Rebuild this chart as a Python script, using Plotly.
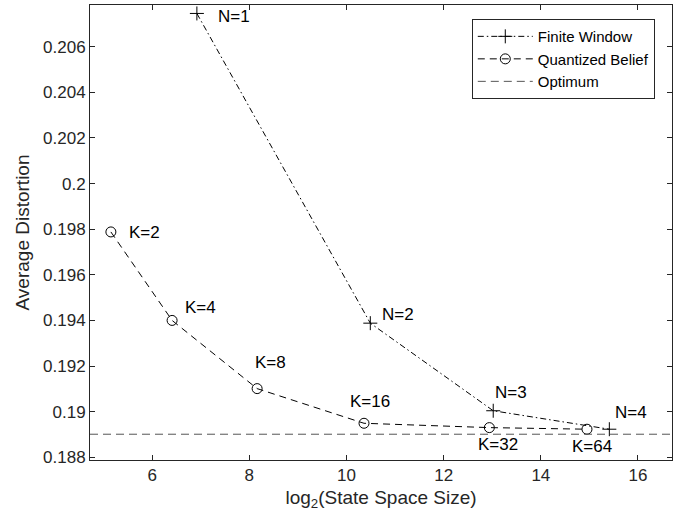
import plotly.graph_objects as go

# ---- data ----
fw_x = [6.92, 10.49, 13.02, 15.41]
fw_y = [0.20746, 0.19388, 0.19004, 0.18923]
fw_labels = ["N=1", "N=2", "N=3", "N=4"]

qb_x = [5.15, 6.41, 8.16, 10.36, 12.94, 14.95]
qb_y = [0.19788, 0.19400, 0.19101, 0.18949, 0.18930, 0.18923]
qb_labels = ["K=2", "K=4", "K=8", "K=16", "K=32", "K=64"]

optimum = 0.18901

x_ticks = [6, 8, 10, 12, 14, 16]
y_ticks = [0.188, 0.19, 0.192, 0.194, 0.196, 0.198, 0.2, 0.202, 0.204, 0.206]
y_ticktext = ["0.188", "0.19", "0.192", "0.194", "0.196", "0.198", "0.2", "0.202", "0.204", "0.206"]

x_range = [4.72, 16.70]
y_range = [0.18788, 0.20783]

# label offsets (pixels): (xshift, yshift)
fw_off = [(19, -3), (10, 9), (0, 18), (4, 17)]
qb_off = [(16, -1), (11, 13), (-4, 26), (-16, 22), (-13, -17), (-17, -17)]

FONT = "Liberation Sans, Arial, sans-serif"
AX = "#262626"

fig = go.Figure()
fig.add_trace(go.Scatter(
    x=fw_x, y=fw_y, mode="lines+markers", name="Finite Window",
    line=dict(color="black", width=1, dash="6px,3px,1.5px,3px"),
    marker=dict(symbol="cross-thin", size=10, line=dict(color="black", width=1)),
))
fig.add_trace(go.Scatter(
    x=qb_x, y=qb_y, mode="lines+markers", name="Quantized Belief",
    line=dict(color="black", width=1, dash="7px,5px"),
    marker=dict(symbol="circle-open", size=10, color="black", line=dict(width=1)),
))
fig.add_trace(go.Scatter(
    x=x_range, y=[optimum, optimum], mode="lines", name="Optimum",
    line=dict(color="#555555", width=1, dash="8px,5px"),
))

annotations = []
for xv, yv, t, (dx, dy) in zip(fw_x, fw_y, fw_labels, fw_off):
    annotations.append(dict(x=xv, y=yv, text=t, showarrow=False, xanchor="left", yanchor="middle",
                            xshift=dx, yshift=dy, font=dict(family=FONT, size=17, color="black")))
for xv, yv, t, (dx, dy) in zip(qb_x, qb_y, qb_labels, qb_off):
    annotations.append(dict(x=xv, y=yv, text=t, showarrow=False, xanchor="left", yanchor="middle",
                            xshift=dx, yshift=dy, font=dict(family=FONT, size=17, color="black")))

axis_common = dict(
    showgrid=False, zeroline=False, showline=True, linecolor=AX, linewidth=1,
    mirror="ticks", ticks="inside", ticklen=5, tickcolor=AX, tickwidth=1,
    tickfont=dict(family=FONT, size=17, color=AX), automargin=False,
)

fig.update_layout(
    width=691, height=522,
    margin=dict(l=90, r=19, t=5, b=62),
    paper_bgcolor="white", plot_bgcolor="white",
    font=dict(family=FONT, color=AX),
    xaxis=dict(range=x_range, tickvals=x_ticks, **axis_common,
               title=dict(text="log<sub>2</sub>(State Space Size)", font=dict(family=FONT, size=19, color=AX), standoff=6)),
    yaxis=dict(range=y_range, tickvals=y_ticks, ticktext=y_ticktext, **axis_common,
               title=dict(text="Average Distortion", font=dict(family=FONT, size=19, color=AX), standoff=8)),
    legend=dict(x=0.656, y=0.969, xanchor="left", yanchor="top",
                bordercolor=AX, borderwidth=1, bgcolor="white",
                font=dict(family=FONT, size=15, color="black"),
                itemwidth=55, tracegroupgap=0),
    annotations=annotations,
    showlegend=True,
)

fig.write_html("out.html", config={"displayModeBar": False},
               post_script="document.body.style.margin='0';document.body.style.padding='0';")
